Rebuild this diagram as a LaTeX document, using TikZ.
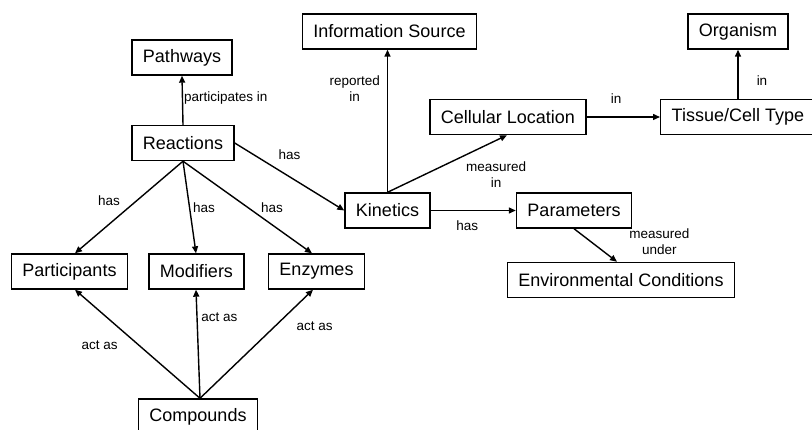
\documentclass[tikz,border=0pt]{standalone}
\usepackage{fontspec}
\setmainfont{Liberation Sans}
\usetikzlibrary{arrows.meta}

\begin{document}
\begin{tikzpicture}[
    x=1pt, y=-1pt,
    concept/.style={draw, line width=1.4pt, minimum height=35pt, inner xsep=11pt,
        font=\fontsize{18}{20}\selectfont},
    rel/.style={line width=1.4pt, -{Triangle[length=7pt,width=6pt]}},
    lbl/.style={font=\fontsize{13.5}{16}\selectfont, inner sep=1pt, align=center}
    ]

\useasboundingbox (0,0) rectangle (812,430);
\clip (0,0) rectangle (812,430);

% concepts
\node[concept] (pathways) at (182,57.5) {Pathways};
\node[concept] (reactions) at (183,143) {Reactions};
\node[concept] (participants) at (69.5,271.5) {Participants};
\node[concept] (modifiers) at (196.5,271.5) {Modifiers};
\node[concept] (enzymes) at (316.5,271.5) {Enzymes};
\node[concept] (compounds) at (198,416.5) {Compounds};
\node[concept] (info) at (389.5,31.5) {Information Source};
\node[concept] (cellloc) at (508,117) {Cellular Location};
\node[concept] (kinetics) at (387.5,210.5) {Kinetics};
\node[concept] (parameters) at (574,210.5) {Parameters};
\node[concept] (organism) at (738,31.5) {Organism};
\node[concept, anchor=west] (tissue) at (660,117) {Tissue/Cell Type};
\node[concept] (env) at (621,280) {Environmental Conditions};

% relations
\draw[rel] (reactions.north) -- (pathways.south) node[lbl, pos=.54, right] {participates in};
\draw[rel] (reactions.east) -- (kinetics.west) node[lbl, pos=.5, yshift=22pt] {has};
\draw[rel] (reactions.south) -- ([xshift=5.5pt]participants.north) node[lbl, pos=.43, xshift=-27.5pt] {has};
\draw[rel] (reactions.south) -- ([xshift=-.5pt]modifiers.north) node[lbl, pos=.5, xshift=14.5pt] {has};
\draw[rel] (reactions.south) -- ([xshift=-4.5pt]enzymes.north) node[lbl, pos=.5, xshift=24.5pt] {has};

\draw[rel] ([xshift=2pt]compounds.north) -- ([xshift=5.5pt]participants.south) node[lbl, pos=.49, xshift=-39pt] {act as};
\draw[rel] ([xshift=2pt]compounds.north) -- ([xshift=-.5pt]modifiers.south) node[lbl, pos=.75, xshift=22.5pt] {act as};
\draw[rel] ([xshift=2pt]compounds.north) -- ([xshift=-3.5pt]enzymes.south) node[lbl, pos=.66, xshift=40pt] {act as};

\draw[rel] (kinetics.north) -- (kinetics.north |- info.south) node[lbl, pos=.73, left, xshift=-6pt] {reported\\in};
\draw[rel] (kinetics.north) -- ([xshift=-1pt]cellloc.south) node[lbl, pos=.91, yshift=-34pt] {measured\\in};
\draw[rel] (kinetics.east) -- (parameters.west) node[lbl, pos=.43, yshift=-15pt] {has};
\draw[rel] (cellloc.east) -- (tissue.west) node[lbl, pos=.4, yshift=18.5pt] {in};
\draw[rel] (organism.south |- tissue.north) -- (organism.south) node[lbl, pos=.38, xshift=24pt] {in};
\draw[rel] (parameters.south) -- ([xshift=-4pt]env.north) node[lbl, pos=.38, xshift=69pt] {measured\\under};

\end{tikzpicture}
\end{document}
